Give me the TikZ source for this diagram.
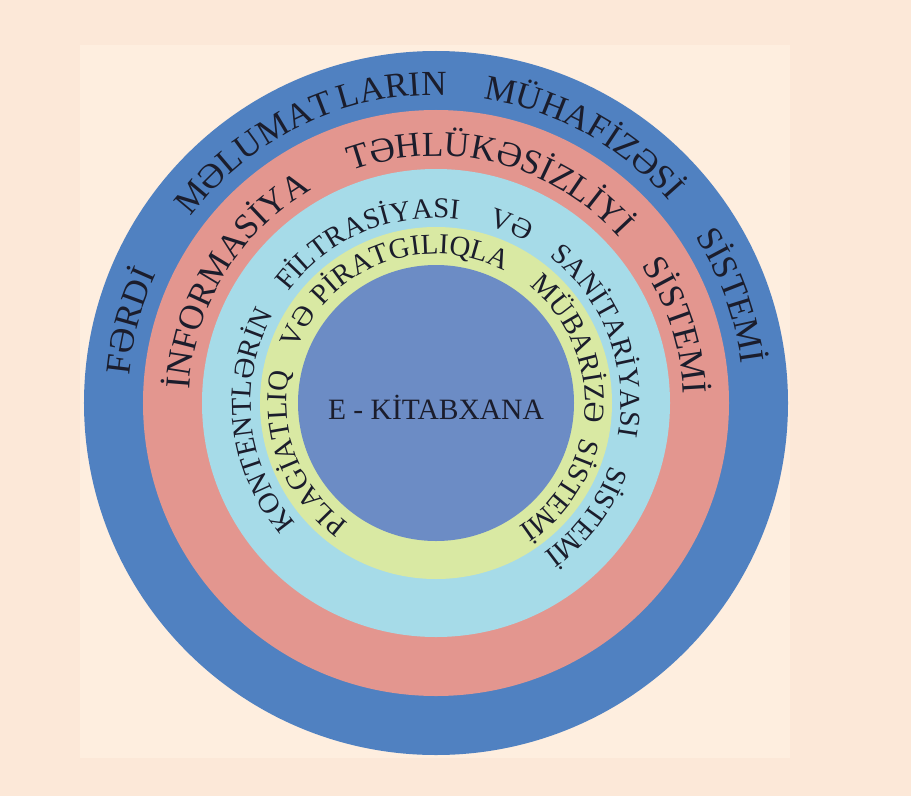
\documentclass[tikz,border=0pt]{standalone}
\usepackage{fontspec}
\setmainfont{Liberation Serif}
\usetikzlibrary{decorations.text}
\definecolor{ekpage}{HTML}{FCE8D8}
\definecolor{ekpaper}{HTML}{FEEEDF}
\definecolor{ekblue}{HTML}{5081C1}
\definecolor{ekpink}{HTML}{E3968F}
\definecolor{ekcyan}{HTML}{A6DBE8}
\definecolor{ekyellow}{HTML}{D9E9A3}
\definecolor{ekcore}{HTML}{6C8CC5}
\definecolor{ekink}{HTML}{1B1D2C}
% one word along a ring: radius, centre angle, text
\newcommand{\ringword}[3]{%
  \path[decorate,decoration={text along path,text align=center,
    text color=ekink,text={#3}}]
    (#2+60:#1) arc[start angle=#2+60,end angle=#2-60,radius=#1];}
\newcommand{\bigfont}{\fontsize{25}{30}\selectfont}
\newcommand{\midfont}{\fontsize{20.5}{25}\selectfont}
\newcommand{\smallfont}{\fontsize{20.5}{25}\selectfont}

\begin{document}
\begin{tikzpicture}[
  x=0.025cm,y=0.025cm
]
\useasboundingbox[fill=ekpage] (-436,-393) rectangle (475,403);
\fill[ekpaper] (-356,-355) rectangle (354,358);

% rings, outside in
\fill[ekblue]   (0,0) circle[radius=352];
\fill[ekpink]   (0,0) circle[radius=293];
\fill[ekcyan]   (0,0) circle[radius=234];
\fill[ekyellow] (0,0) circle[radius=176];
\fill[ekcore]   (0,0) circle[radius=138];

% outer ring
\ringword{308}{165}{|\bigfont|FƏRDİ}
\ringword{308}{126}{|\bigfont|MƏLUMAT}
\ringword{308}{98}{|\bigfont|LARIN}
\ringword{308}{61}{|\bigfont|MÜHAFİZƏSİ}
\ringword{308}{20}{|\bigfont|SİSTEMİ}

% pink ring
\ringword{247}{148.5}{|\bigfont|İNFORMASİYA}
\ringword{247}{76}{|\bigfont|TƏHLÜKƏSİZLİYİ}
\ringword{247}{18}{|\bigfont|SİSTEMİ}

% cyan ring
\ringword{185}{186}{|\midfont|KONTENTLƏRİN}
\ringword{185}{113}{|\midfont|FİLTRASİYASI}
\ringword{185}{67}{|\midfont|VƏ}
\ringword{185}{21}{|\midfont|SANİTARİYASI}
\ringword{185}{-37}{|\midfont|SİSTEMİ}

% yellow ring
\ringword{149}{201}{|\smallfont|PLAGİATLIQ}
\ringword{149}{151}{|\smallfont|VƏ}
\ringword{149}{101}{|\smallfont|PİRATGILIQLA}
\ringword{149}{22}{|\smallfont|MÜBARİZƏ}
\ringword{149}{-35}{|\smallfont|SİSTEMİ}

\node[text=ekink,font=\fontsize{21}{25}\selectfont] (core) at (0,-4) {E - KİTABXANA};
\end{tikzpicture}
\end{document}
